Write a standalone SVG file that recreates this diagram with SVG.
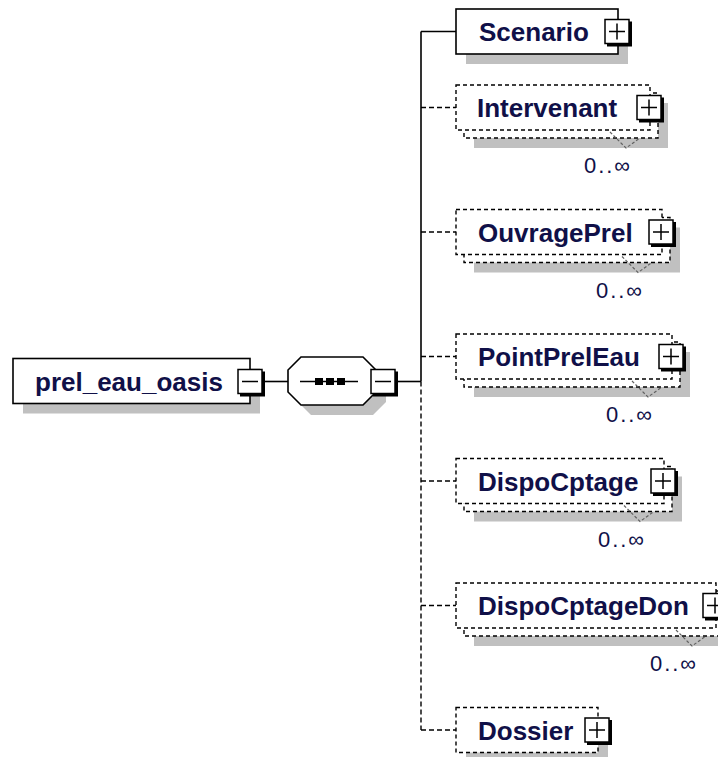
<svg xmlns="http://www.w3.org/2000/svg" xmlns:xlink="http://www.w3.org/1999/xlink" width="718" height="757" viewBox="0 0 718 757">
<style>
.bg{fill:#ffffff}
.shadow{fill:#c0c0c0;stroke:none}
.box{fill:#ffffff;stroke:#000000;stroke-width:1.6}
.dbox{fill:#ffffff;stroke:#000000;stroke-width:1.4;stroke-dasharray:4 3}
.line{fill:none;stroke:#000000;stroke-width:1.6}
.dline{fill:none;stroke:#000000;stroke-width:1.4;stroke-dasharray:5 3}
.vmark{fill:none;stroke:#606060;stroke-width:1.2;stroke-dasharray:3 2}
.label{font-family:"Liberation Sans",Arial,sans-serif;font-weight:bold;font-size:26px;fill:#101048}
.mult{font-family:"Liberation Sans",Arial,sans-serif;font-size:22px;fill:#101048}
</style>
<defs>
<g id="plus">
<rect x="0" y="0" width="24" height="24" fill="#ffffff" stroke="#000000" stroke-width="1.5"/>
<path d="M25.5,2 V25.5 H2" fill="none" stroke="#000000" stroke-width="3"/>
<path d="M4,12 H20 M12,4 V20" fill="none" stroke="#000000" stroke-width="1.5"/>
</g>
<g id="minus">
<rect x="0" y="0" width="24" height="24" fill="#ffffff" stroke="#000000" stroke-width="1.5"/>
<path d="M25.5,2 V25.5 H2" fill="none" stroke="#000000" stroke-width="3"/>
<path d="M4,12 H20" fill="none" stroke="#000000" stroke-width="1.5"/>
</g>
</defs>
<rect class="bg" x="0" y="0" width="718" height="757"/>

<g id="connectors">
<path class="line" d="M264,381.5 H288"/>
<path class="line" d="M397,381.5 H421"/>
<path class="line" d="M421,31.5 V381.5"/>
<path class="dline" d="M421,381.5 V730"/>
<path class="line" d="M421,31.5 H456"/>
<path class="dline" d="M421,107.5 H456"/>
<path class="dline" d="M421,232 H456"/>
<path class="dline" d="M421,356.5 H456"/>
<path class="dline" d="M421,481 H456"/>
<path class="dline" d="M421,605.5 H456"/>
<path class="dline" d="M421,730 H456"/>
</g>

<g id="prel_eau_oasis">
<rect class="shadow" x="23" y="368.5" width="237" height="45"/>
<rect class="box" x="13" y="358.5" width="237" height="45"/>
<text class="label" x="35" y="390.5">prel_eau_oasis</text>
<use xlink:href="#minus" x="238" y="369.5"/>
</g>

<g id="sequence">
<polygon class="shadow" points="311,367 373,367 386,380 386,402 373,415 311,415 298,402 298,380"/>
<polygon class="box" points="301,357 363,357 376,370 376,392 363,405 301,405 288,392 288,370"/>
<path class="line" d="M300,381.5 H358"/>
<rect x="315" y="378" width="8" height="7" fill="#000000"/>
<rect x="326" y="378" width="8" height="7" fill="#000000"/>
<rect x="337" y="378" width="8" height="7" fill="#000000"/>
<use xlink:href="#minus" x="371" y="369.5"/>
</g>

<g id="Scenario">
<rect class="shadow" x="466" y="19" width="162" height="45"/>
<rect class="box" x="456" y="9" width="162" height="45"/>
<text class="label" x="479" y="41">Scenario</text>
<use xlink:href="#plus" x="605" y="19.5"/>
</g>

<g id="Intervenant">
<rect class="shadow" x="474" y="103" width="194" height="45"/>
<rect class="dbox" x="464" y="93" width="194" height="45"/>
<rect class="dbox" x="456" y="85" width="194" height="45"/>
<polyline class="vmark" points="610,132 626,148 640,138"/>
<text class="label" x="477" y="117">Intervenant</text>
<use xlink:href="#plus" x="637" y="95.5"/>
<text class="mult" x="584" y="173" textLength="46" lengthAdjust="spacing">0..∞</text>
</g>

<g id="OuvragePrel">
<rect class="shadow" x="474" y="227.5" width="206" height="45"/>
<rect class="dbox" x="464" y="217.5" width="206" height="45"/>
<rect class="dbox" x="456" y="209.5" width="206" height="45"/>
<polyline class="vmark" points="622,256.5 638,272.5 652,262.5"/>
<text class="label" x="478" y="241.5">OuvragePrel</text>
<use xlink:href="#plus" x="649" y="220"/>
<text class="mult" x="596" y="297.5" textLength="46" lengthAdjust="spacing">0..∞</text>
</g>

<g id="PointPrelEau">
<rect class="shadow" x="474" y="352" width="216" height="45"/>
<rect class="dbox" x="464" y="342" width="216" height="45"/>
<rect class="dbox" x="456" y="334" width="216" height="45"/>
<polyline class="vmark" points="632,381 648,397 662,387"/>
<text class="label" x="478" y="366">PointPrelEau</text>
<use xlink:href="#plus" x="659" y="344.5"/>
<text class="mult" x="606" y="422" textLength="46" lengthAdjust="spacing">0..∞</text>
</g>

<g id="DispoCptage">
<rect class="shadow" x="474" y="476.5" width="208" height="45"/>
<rect class="dbox" x="464" y="466.5" width="208" height="45"/>
<rect class="dbox" x="456" y="458.5" width="208" height="45"/>
<polyline class="vmark" points="624,505.5 640,521.5 654,511.5"/>
<text class="label" x="478" y="490.5">DispoCptage</text>
<use xlink:href="#plus" x="651" y="469"/>
<text class="mult" x="598" y="546.5" textLength="46" lengthAdjust="spacing">0..∞</text>
</g>

<g id="DispoCptageDon">
<rect class="shadow" x="474" y="601" width="260" height="45"/>
<rect class="dbox" x="464" y="591" width="260" height="45"/>
<rect class="dbox" x="456" y="583" width="260" height="45"/>
<polyline class="vmark" points="676,630 692,646 706,636"/>
<text class="label" x="478" y="615">DispoCptageDon</text>
<use xlink:href="#plus" x="703" y="593.5"/>
<text class="mult" x="650" y="671" textLength="46" lengthAdjust="spacing">0..∞</text>
</g>

<g id="Dossier">
<rect class="shadow" x="466" y="717.5" width="142" height="45"/>
<rect class="dbox" x="456" y="707.5" width="142" height="45"/>
<text class="label" x="478" y="739.5">Dossier</text>
<use xlink:href="#plus" x="585" y="718"/>
</g>
</svg>
